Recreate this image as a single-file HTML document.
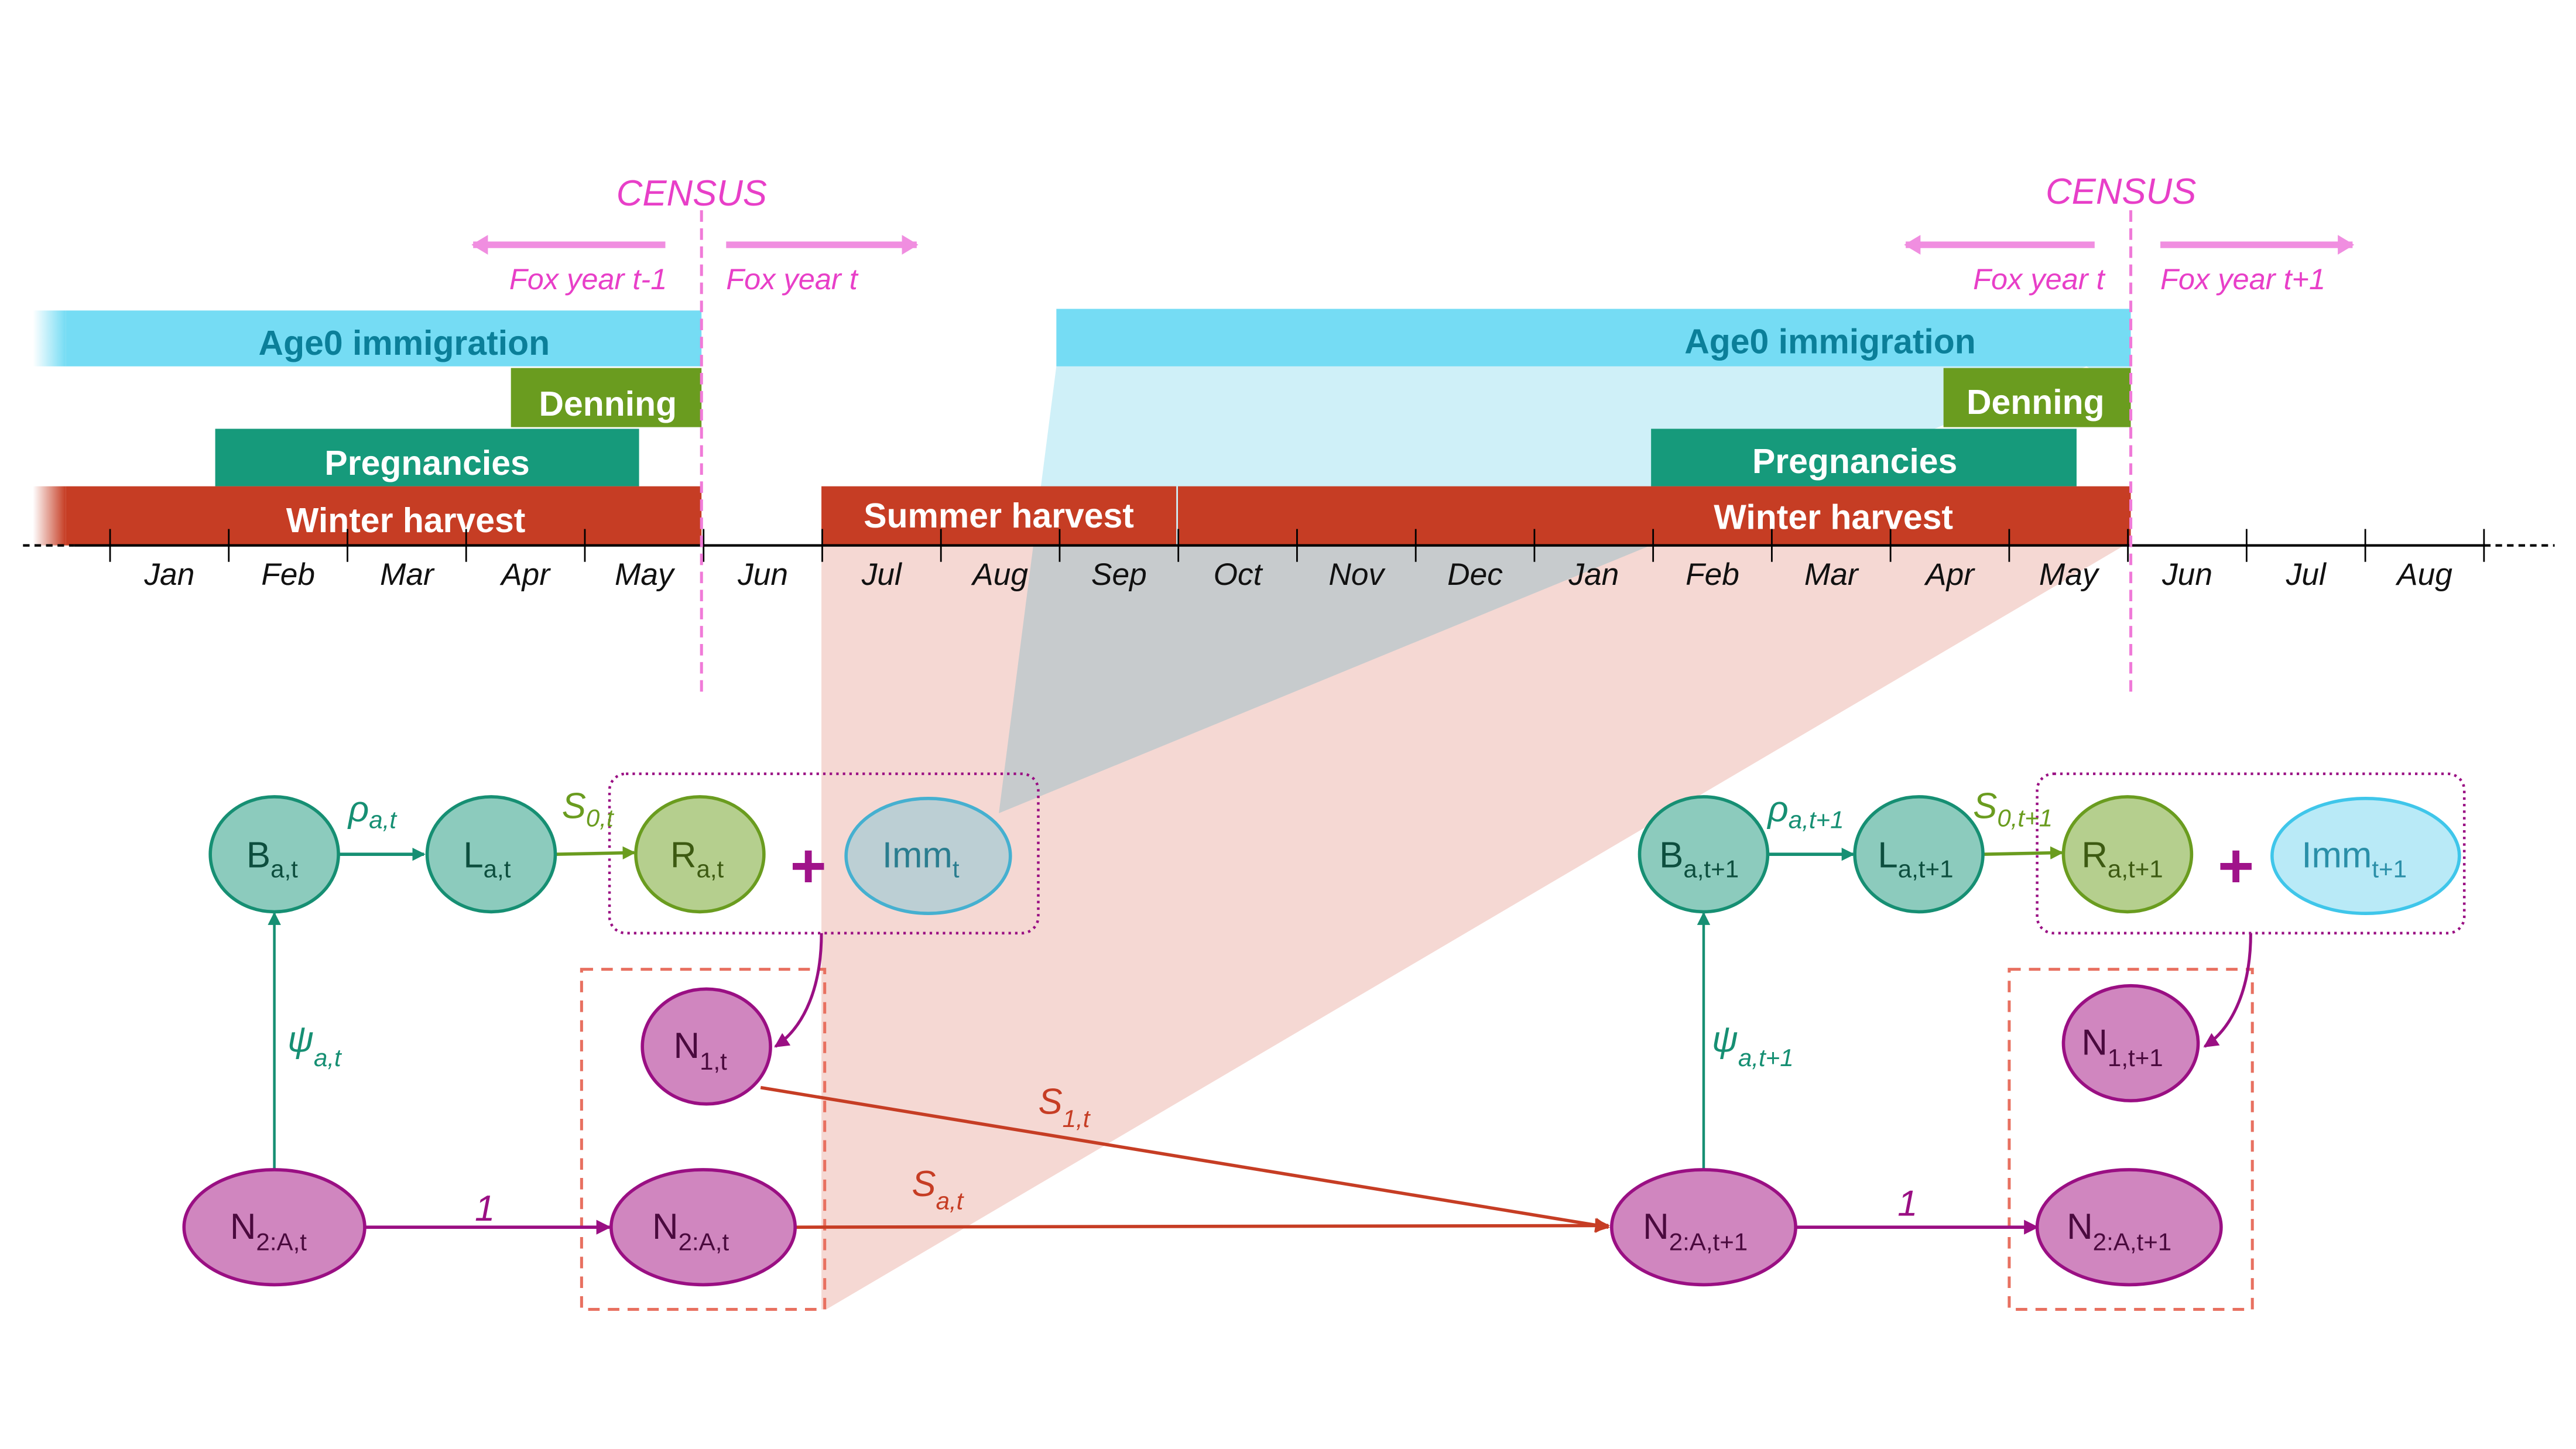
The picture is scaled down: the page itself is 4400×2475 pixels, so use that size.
<!DOCTYPE html>
<html><head><meta charset="utf-8">
<style>
html,body{margin:0;padding:0;background:#fff;}
svg{display:block;}
text{font-family:"Liberation Sans",sans-serif;}
.blend{mix-blend-mode:multiply;}
</style></head>
<body>
<svg id="fig" width="4400" height="2475" viewBox="0 0 1568 882" xmlns="http://www.w3.org/2000/svg">
<defs>
<linearGradient id="fadeBlue" x1="0" x2="1"><stop offset="0" stop-color="#75dcf4" stop-opacity="0"/><stop offset="1" stop-color="#75dcf4"/></linearGradient>
<linearGradient id="fadeRed" x1="0" x2="1"><stop offset="0" stop-color="#c63d24" stop-opacity="0"/><stop offset="1" stop-color="#c63d24"/></linearGradient>
<marker id="aGreen" markerWidth="8" markerHeight="8" refX="7" refY="4" orient="auto" markerUnits="userSpaceOnUse"><path d="M0,0L8,4L0,8z" fill="#168f73"/></marker>
<marker id="aOlive" markerWidth="8" markerHeight="8" refX="7" refY="4" orient="auto" markerUnits="userSpaceOnUse"><path d="M0,0L8,4L0,8z" fill="#6a9c1f"/></marker>
<marker id="aMag" markerWidth="9" markerHeight="9" refX="8" refY="4.5" orient="auto" markerUnits="userSpaceOnUse"><path d="M0,0L9,4.5L0,9z" fill="#9a0f83"/></marker>
<marker id="aRed" markerWidth="9" markerHeight="9" refX="8" refY="4.5" orient="auto" markerUnits="userSpaceOnUse"><path d="M0,0L9,4.5L0,9z" fill="#c63d24"/></marker>
<marker id="aPink" markerWidth="10" markerHeight="12" refX="9" refY="6" orient="auto" markerUnits="userSpaceOnUse"><path d="M0,0L10,6L0,12z" fill="#f08ee0"/></marker>
</defs>

<polygon points="500,332 1293,332 503,797 500,797" fill="#f5d8d3"/>
<polygon class="blend" points="643,223 1297,223 1297,240 1270,223 608,495" fill="#cff0f8"/>

<g>
<rect x="20" y="189" width="20" height="34" fill="url(#fadeBlue)"/>
<rect x="40" y="189" width="387" height="34" fill="#75dcf4"/>
<text x="246" y="216" font-size="21" font-weight="bold" fill="#0b7f99" text-anchor="middle">Age0 immigration</text>
<rect x="311" y="224" width="116" height="36" fill="#6a9c1f"/>
<text x="370" y="253" font-size="21" font-weight="bold" fill="#fff" text-anchor="middle">Denning</text>
<rect x="131" y="261" width="258" height="35" fill="#169a7b"/>
<text x="260" y="289" font-size="21" font-weight="bold" fill="#fff" text-anchor="middle">Pregnancies</text>
<rect x="20" y="296" width="20" height="36" fill="url(#fadeRed)"/>
<rect x="40" y="296" width="387" height="36" fill="#c63d24"/>
<text x="247" y="324" font-size="21" font-weight="bold" fill="#fff" text-anchor="middle">Winter harvest</text>
</g>
<g>
<rect x="643" y="188" width="654" height="35" fill="#75dcf4"/>
<text x="1114" y="215" font-size="21" font-weight="bold" fill="#0b7f99" text-anchor="middle">Age0 immigration</text>
<rect x="1183" y="224" width="114" height="36" fill="#6a9c1f"/>
<text x="1239" y="252" font-size="21" font-weight="bold" fill="#fff" text-anchor="middle">Denning</text>
<rect x="1005" y="261" width="259" height="35" fill="#169a7b"/>
<text x="1129" y="288" font-size="21" font-weight="bold" fill="#fff" text-anchor="middle">Pregnancies</text>
<rect x="500" y="296" width="216" height="36" fill="#c63d24"/>
<text x="608" y="321" font-size="21" font-weight="bold" fill="#fff" text-anchor="middle">Summer harvest</text>
<rect x="717" y="296" width="580" height="36" fill="#c63d24"/>
<text x="1116" y="322" font-size="21" font-weight="bold" fill="#fff" text-anchor="middle">Winter harvest</text>
</g>

<g id="axis">
<line x1="14" y1="332" x2="45" y2="332" stroke="#000" stroke-width="1.5" stroke-dasharray="4,3"/>
<line x1="45" y1="332" x2="1512" y2="332" stroke="#000" stroke-width="1.5"/>
<line x1="1512" y1="332" x2="1555" y2="332" stroke="#000" stroke-width="1.5" stroke-dasharray="4,3"/>
</g>

<g>
<line x1="427" y1="128" x2="427" y2="425" stroke="#f07ad8" stroke-width="1.8" stroke-dasharray="7,4"/>
<text x="421" y="125" font-size="22" font-style="italic" fill="#e83fc8" text-anchor="middle">CENSUS</text>
<line x1="405" y1="149" x2="288" y2="149" stroke="#f08ee0" stroke-width="4" marker-end="url(#aPink)"/>
<line x1="442" y1="149" x2="558" y2="149" stroke="#f08ee0" stroke-width="4" marker-end="url(#aPink)"/>
<text x="406" y="176" font-size="18" font-style="italic" fill="#e83fc8" text-anchor="end">Fox year t-1</text>
<text x="442" y="176" font-size="18" font-style="italic" fill="#e83fc8">Fox year t</text>
</g>
<g>
<line x1="1297" y1="128" x2="1297" y2="425" stroke="#f07ad8" stroke-width="1.8" stroke-dasharray="7,4"/>
<text x="1291" y="124" font-size="22" font-style="italic" fill="#e83fc8" text-anchor="middle">CENSUS</text>
<line x1="1275" y1="149" x2="1160" y2="149" stroke="#f08ee0" stroke-width="4" marker-end="url(#aPink)"/>
<line x1="1315" y1="149" x2="1432" y2="149" stroke="#f08ee0" stroke-width="4" marker-end="url(#aPink)"/>
<text x="1281" y="176" font-size="18" font-style="italic" fill="#e83fc8" text-anchor="end">Fox year t</text>
<text x="1315" y="176" font-size="18" font-style="italic" fill="#e83fc8">Fox year t+1</text>
</g>

<rect x="371" y="471" width="261" height="97" rx="10" fill="none" stroke="#9a0f83" stroke-width="1.6" stroke-dasharray="1.5,2.5"/>
<rect x="354" y="590" width="148" height="207" fill="none" stroke="#e87060" stroke-width="1.8" stroke-dasharray="7,5"/>
<rect x="1240" y="471" width="260" height="97" rx="10" fill="none" stroke="#9a0f83" stroke-width="1.6" stroke-dasharray="1.5,2.5"/>
<rect x="1223" y="590" width="148" height="207" fill="none" stroke="#e87060" stroke-width="1.8" stroke-dasharray="7,5"/>

<g fill="none">
<line x1="206" y1="520" x2="258" y2="520" stroke="#168f73" stroke-width="2" marker-end="url(#aGreen)"/>
<line x1="338" y1="520" x2="386" y2="519" stroke="#6a9c1f" stroke-width="2" marker-end="url(#aOlive)"/>
<line x1="167" y1="712" x2="167" y2="556" stroke="#168f73" stroke-width="1.6" marker-end="url(#aGreen)"/>
<line x1="222" y1="747" x2="371" y2="747" stroke="#9a0f83" stroke-width="2" marker-end="url(#aMag)"/>
<path d="M500,568 C500,600 490,625 472,637" stroke="#9a0f83" stroke-width="1.8" marker-end="url(#aMag)"/>
<line x1="463" y1="662" x2="979" y2="747" stroke="#c63d24" stroke-width="2" marker-end="url(#aRed)"/>
<line x1="484" y1="747" x2="979" y2="746" stroke="#c63d24" stroke-width="2" marker-end="url(#aRed)"/>
<line x1="1076" y1="520" x2="1128" y2="520" stroke="#168f73" stroke-width="2" marker-end="url(#aGreen)"/>
<line x1="1207" y1="520" x2="1255" y2="519" stroke="#6a9c1f" stroke-width="2" marker-end="url(#aOlive)"/>
<line x1="1037" y1="712" x2="1037" y2="556" stroke="#168f73" stroke-width="1.6" marker-end="url(#aGreen)"/>
<line x1="1093" y1="747" x2="1240" y2="747" stroke="#9a0f83" stroke-width="2" marker-end="url(#aMag)"/>
<path d="M1370,568 C1370,600 1360,625 1342,637" stroke="#9a0f83" stroke-width="1.8" marker-end="url(#aMag)"/>
</g>

<g font-style="italic">
<text x="212" y="500" font-size="22" fill="#168f73">ρ<tspan font-size="15" dy="4">a,t</tspan></text>
<text x="342" y="498" font-size="22" fill="#6a9c1f">S<tspan font-size="15" dy="5">0,t</tspan></text>
<text x="175" y="640" font-size="22" fill="#168f73">ψ<tspan font-size="15" dy="9">a,t</tspan></text>
<text x="289" y="743" font-size="22" fill="#9a0f83">1</text>
<text x="632" y="678" font-size="22" fill="#c63d24">S<tspan font-size="15" dy="8">1,t</tspan></text>
<text x="555" y="728" font-size="22" fill="#c63d24">S<tspan font-size="15" dy="8">a,t</tspan></text>
<text x="1076" y="500" font-size="22" fill="#168f73">ρ<tspan font-size="15" dy="4">a,t+1</tspan></text>
<text x="1201" y="498" font-size="22" fill="#6a9c1f">S<tspan font-size="15" dy="5">0,t+1</tspan></text>
<text x="1042" y="640" font-size="22" fill="#168f73">ψ<tspan font-size="15" dy="9">a,t+1</tspan></text>
<text x="1155" y="740" font-size="22" fill="#9a0f83">1</text>
</g>

<g font-size="22">
<g><ellipse cx="167" cy="520" rx="39" ry="35" fill="#8ccbbd" stroke="#168f73" stroke-width="2"/><text x="150" y="528" fill="#0d4e3e">B<tspan font-size="15" dy="6">a,t</tspan></text></g>
<g><ellipse cx="299" cy="520" rx="39" ry="35" fill="#8ccbbd" stroke="#168f73" stroke-width="2"/><text x="282" y="528" fill="#0d4e3e">L<tspan font-size="15" dy="6">a,t</tspan></text></g>
<g><ellipse cx="426" cy="520" rx="39" ry="35" fill="#b5cf8e" stroke="#6a9c1f" stroke-width="2"/><text x="408" y="528" fill="#3d5a12">R<tspan font-size="15" dy="6">a,t</tspan></text></g>
<text x="492" y="540" font-size="38" font-weight="bold" fill="#a0138a" text-anchor="middle">+</text>
<g><ellipse cx="565" cy="521" rx="50" ry="35" fill="#bccfd4" stroke="#45b0d0" stroke-width="2"/><text x="537" y="528" fill="#2a7d8f">Imm<tspan font-size="15" dy="6">t</tspan></text></g>
<g><ellipse cx="430" cy="637" rx="39" ry="35" fill="#d086bf" stroke="#9a0f83" stroke-width="2"/><text x="410" y="644" fill="#4a0a3e">N<tspan font-size="15" dy="7">1,t</tspan></text></g>
<g><ellipse cx="167" cy="747" rx="55" ry="35" fill="#d086bf" stroke="#9a0f83" stroke-width="2"/><text x="140" y="754" fill="#4a0a3e">N<tspan font-size="15" dy="7">2:A,t</tspan></text></g>
<g><ellipse cx="428" cy="747" rx="56" ry="35" fill="#d086bf" stroke="#9a0f83" stroke-width="2"/><text x="397" y="754" fill="#4a0a3e">N<tspan font-size="15" dy="7">2:A,t</tspan></text></g>

<g><ellipse cx="1037" cy="520" rx="39" ry="35" fill="#8ccbbd" stroke="#168f73" stroke-width="2"/><text x="1010" y="528" fill="#0d4e3e">B<tspan font-size="15" dy="6">a,t+1</tspan></text></g>
<g><ellipse cx="1168" cy="520" rx="39" ry="35" fill="#8ccbbd" stroke="#168f73" stroke-width="2"/><text x="1143" y="528" fill="#0d4e3e">L<tspan font-size="15" dy="6">a,t+1</tspan></text></g>
<g><ellipse cx="1295" cy="520" rx="39" ry="35" fill="#b5cf8e" stroke="#6a9c1f" stroke-width="2"/><text x="1267" y="528" fill="#3d5a12">R<tspan font-size="15" dy="6">a,t+1</tspan></text></g>
<text x="1361" y="540" font-size="38" font-weight="bold" fill="#a0138a" text-anchor="middle">+</text>
<g><ellipse cx="1440" cy="521" rx="57" ry="35" fill="#b9eaf7" stroke="#3fc6ea" stroke-width="2"/><text x="1401" y="528" fill="#2a8fa8">Imm<tspan font-size="15" dy="6">t+1</tspan></text></g>
<g><ellipse cx="1297" cy="635" rx="41" ry="35" fill="#d086bf" stroke="#9a0f83" stroke-width="2"/><text x="1267" y="642" fill="#4a0a3e">N<tspan font-size="15" dy="7">1,t+1</tspan></text></g>
<g><ellipse cx="1037" cy="747" rx="56" ry="35" fill="#d086bf" stroke="#9a0f83" stroke-width="2"/><text x="1000" y="754" fill="#4a0a3e">N<tspan font-size="15" dy="7">2:A,t+1</tspan></text></g>
<g><ellipse cx="1296" cy="747" rx="56" ry="35" fill="#d086bf" stroke="#9a0f83" stroke-width="2"/><text x="1258" y="754" fill="#4a0a3e">N<tspan font-size="15" dy="7">2:A,t+1</tspan></text></g>
</g>
</svg>
<script>
const monthLabels = ["Jan","Feb","Mar","Apr","May","Jun","Jul","Aug","Sep","Oct","Nov","Dec","Jan","Feb","Mar","Apr","May","Jun","Jul","Aug"];
const tickStart = 67, tickStep = 72.25;
const ns = "http://www.w3.org/2000/svg";
const axis = document.getElementById("axis");
for (let i = 0; i <= monthLabels.length; i++) {
  const x = tickStart + i * tickStep;
  const t = document.createElementNS(ns, "line");
  t.setAttribute("x1", x); t.setAttribute("x2", x);
  t.setAttribute("y1", 322); t.setAttribute("y2", 342);
  t.setAttribute("stroke", "#000"); t.setAttribute("stroke-width", "1");
  
  
  axis.appendChild(t);
  if (i < monthLabels.length) {
    const lb = document.createElementNS(ns, "text");
    lb.setAttribute("x", x + tickStep / 2);
    lb.setAttribute("y", 356);
    lb.setAttribute("text-anchor", "middle");
    lb.setAttribute("font-size", "19");
    lb.setAttribute("font-style", "italic");
    lb.setAttribute("fill", "#111");
    lb.textContent = monthLabels[i];
    
    
    axis.appendChild(lb);
  }
}
</script>
</body></html>
